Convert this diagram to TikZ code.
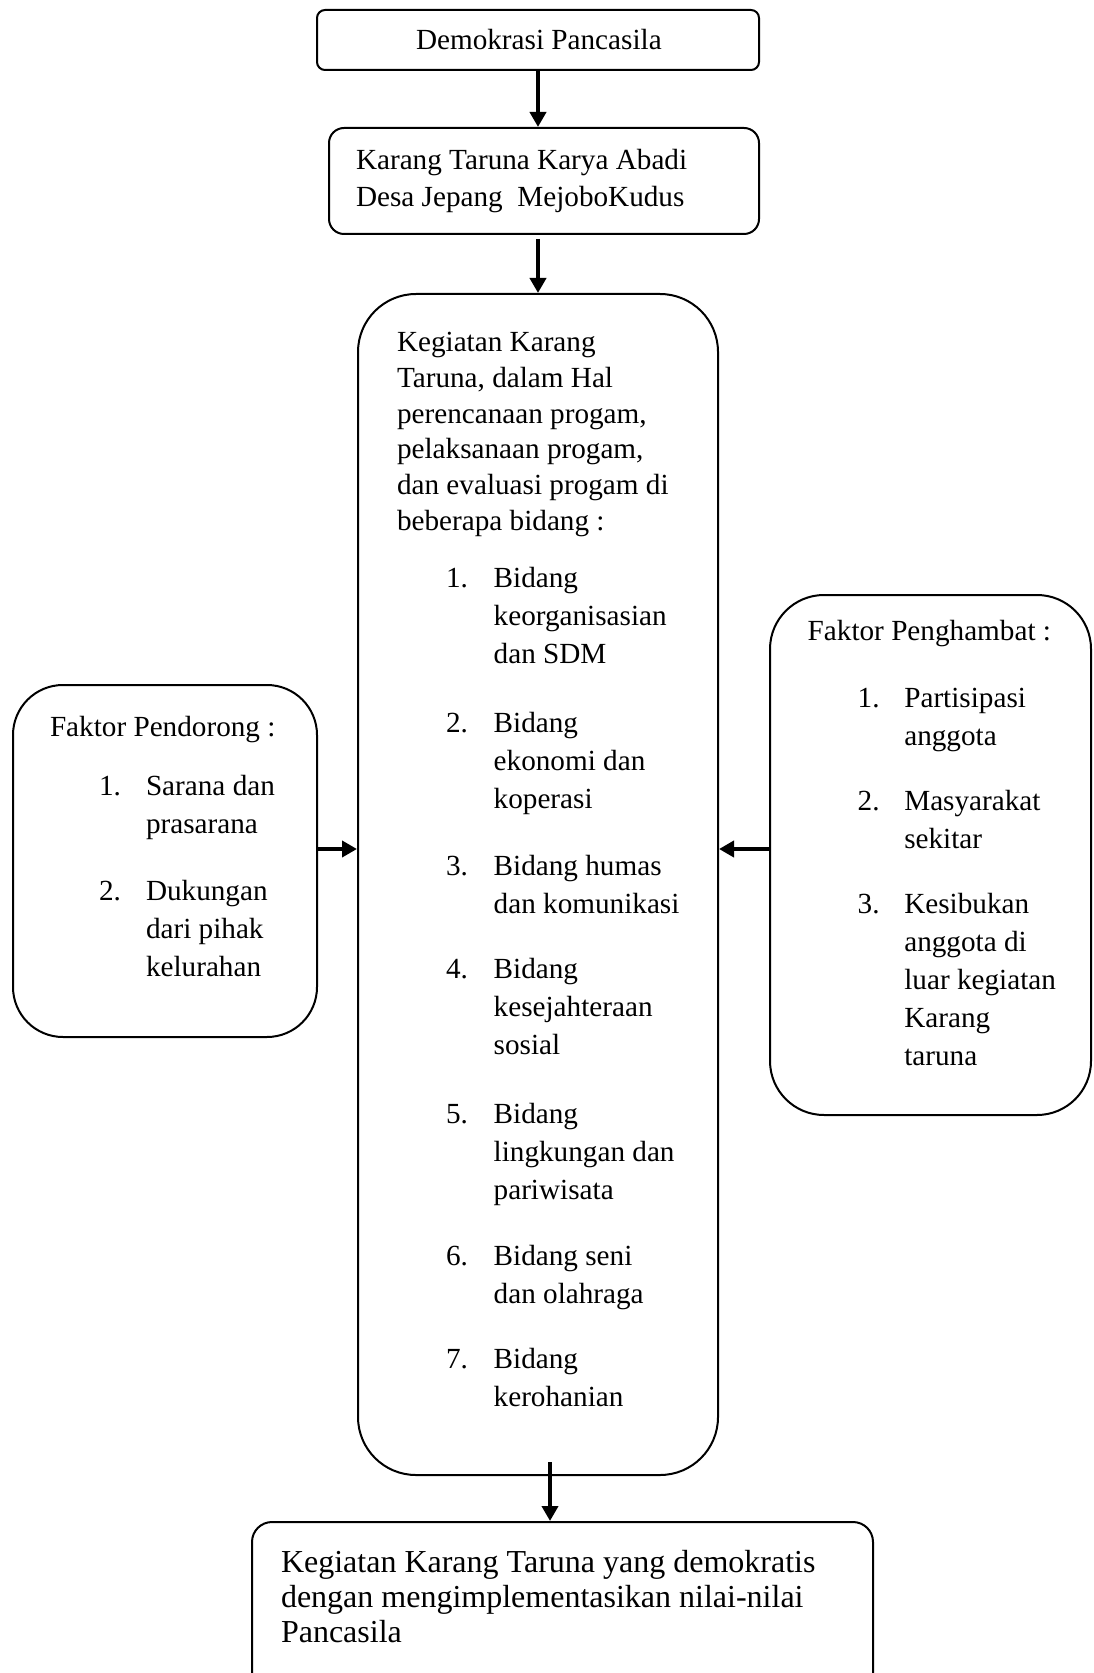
\documentclass[tikz,border=0pt]{standalone}
\usepackage{fontspec}
\setmainfont{Liberation Serif}
\usetikzlibrary{arrows.meta}
\newcommand{\baris}[1]{\begin{tabular}[t]{@{}l@{}}#1\end{tabular}}

\begin{document}
\begin{tikzpicture}[x=0.5pt, y=-0.5pt, line width=1pt,
	box/.style = {draw, inner sep=0pt, rounded corners=#1}, box/.default=10pt,
	txt/.style = {anchor=base west, inner sep=0pt, font=\fontsize{14.6}{19}\selectfont},
	arrow/.style = {line width=2pt, -{Triangle[width=8pt,length=7.5pt]}}]
	\useasboundingbox (0,0) rectangle (1093,1673);
	% kotak-kotak
	\node[box=4pt, minimum width=221pt, minimum height=30pt] (demo) at (538,40) {};
	\node[box=7.5pt, minimum width=215pt, minimum height=53pt] (karang) at (544,181) {};
	\node[box=29pt, minimum width=180pt, minimum height=590.5pt] (kegiatan) at (538,884.5) {};
	\node[box=25pt, minimum width=152pt, minimum height=176pt] (pendorong) at (165,861) {};
	\node[box=27pt, minimum width=160.5pt, minimum height=260pt] (penghambat) at (930.5,855) {};
	\node[box=10pt, minimum width=310.5pt, minimum height=89pt] (hasil) at (562.5,1611) {};
	% teks
	\node[txt] (tdemo) at (415,50) {Demokrasi Pancasila};
	\node[txt, font=\fontsize{14.6}{18.5}\selectfont] (tkarang) at (355,170) {\baris{Karang Taruna Karya Abadi\\Desa Jepang\ \ MejoboKudus}};
	\node[txt, font=\fontsize{14.6}{17.85}\selectfont] (tkeg) at (396,351.7) {\baris{Kegiatan Karang\\Taruna, dalam Hal\\perencanaan progam,\\pelaksanaan progam,\\dan evaluasi progam di\\beberapa bidang :}};
	\foreach \n/\y/\txt in {1/587/{Bidang\\keorganisasian\\dan SDM}, 2/732/{Bidang\\ekonomi dan\\koperasi}, 3/875/{Bidang humas\\dan komunikasi}, 4/978/{Bidang\\kesejahteraan\\sosial}, 5/1123/{Bidang\\lingkungan dan\\pariwisata}, 6/1265/{Bidang seni\\dan olahraga}, 7/1368/{Bidang\\kerohanian}}{
		\node[txt] (nb\n) at (445,\y) {\n.};
		\node[txt] (b\n) at (492.7,\y) {\baris{\txt}};
	}
	\node[txt] (tdorong) at (49,736.7) {Faktor Pendorong :};
	\foreach \n/\y/\txt in {1/795/{Sarana dan\\prasarana}, 2/900/{Dukungan\\dari pihak\\kelurahan}}{
		\node[txt] (nd\n) at (98,\y) {\n.};
		\node[txt] (d\n) at (145,\y) {\baris{\txt}};
	}
	\node[txt] (thambat) at (806.7,640) {Faktor Penghambat :};
	\foreach \n/\y/\txt in {1/707/{Partisipasi\\anggota}, 2/810/{Masyarakat\\sekitar}, 3/913/{Kesibukan\\anggota di\\luar kegiatan\\Karang\\taruna}}{
		\node[txt] (nh\n) at (856.7,\y) {\n.};
		\node[txt] (h\n) at (903.3,\y) {\baris{\txt}};
	}
	\node[txt, font=\fontsize{16}{17.5}\selectfont] (thasil) at (280,1572) {\baris{Kegiatan Karang Taruna yang demokratis\\dengan mengimplementasikan nilai-nilai\\Pancasila}};
	% panah
	\coordinate (mid) at (0,849);
	\coordinate (keluar) at (550,1462);
	\draw[arrow] (demo.south) -- (demo.south |- karang.north);
	\draw[arrow] ([yshift=-2pt]karang.south -| kegiatan.north) -- (kegiatan.north);
	\draw[arrow] (pendorong.east |- mid) -- (kegiatan.west |- mid);
	\draw[arrow] (penghambat.west |- mid) -- (kegiatan.east |- mid);
	\draw[arrow] (keluar) -- (keluar |- hasil.north);
\end{tikzpicture}
\end{document}
